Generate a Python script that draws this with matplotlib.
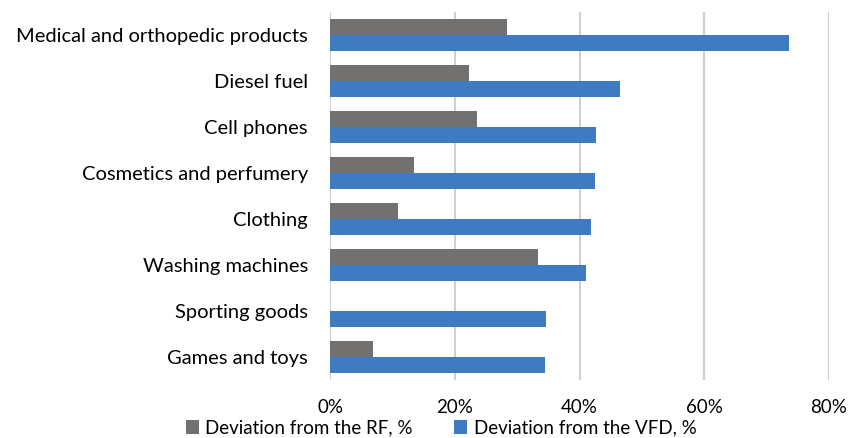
import matplotlib.pyplot as plt
import numpy as np

categories = ['Medical and orthopedic products', 'Diesel fuel', 'Cell phones',
              'Cosmetics and perfumery', 'Clothing', 'Washing machines',
              'Sporting goods', 'Games and toys']
dev_rf = [28.4, 22.3, 23.6, 13.5, 10.9, 33.4, 0.0, 6.9]
dev_vfd = [73.6, 46.5, 42.7, 42.5, 41.9, 41.0, 34.7, 34.4]
x_ticks = [0, 20, 40, 60, 80]

plt.rcParams['font.family'] = ['Lato', 'DejaVu Sans']

fig = plt.figure(figsize=(8.5, 4.38), dpi=100)
ax = fig.add_axes([330 / 850, 1 - 380 / 438, (829 - 330) / 850, (380 - 12) / 438])

y = np.arange(len(categories))
h = 0.345
ax.barh(y - h / 2, dev_rf, height=h, color='#727170', label='Deviation from the RF, %', zorder=3)
ax.barh(y + h / 2, dev_vfd, height=h, color='#3E7BC0', label='Deviation from the VFD, %', zorder=3)

ax.set_ylim(len(categories) - 0.5, -0.5)
ax.set_xlim(0, 80)
ax.set_xticks(x_ticks)
ax.set_xticklabels([f'{t}%' for t in x_ticks], fontsize=13.5)
ax.set_yticks(y)
ax.set_yticklabels(categories, fontsize=14.5)
ax.tick_params(axis='both', length=0)
ax.tick_params(axis='y', pad=16)
ax.tick_params(axis='x', pad=14)
ax.grid(axis='x', color='#d0d0d0', linewidth=1.5, zorder=0)
for s in ax.spines.values():
    s.set_visible(False)

fig.legend(loc='center', bbox_to_anchor=(441 / 850, 1 - 428 / 438), ncol=2,
           frameon=False, prop={'family': 'Lato', 'size': 13.5},
           handlelength=0.7, handleheight=0.7,
           handletextpad=0.35, columnspacing=2.2)

fig.savefig('out.png', dpi=100)
